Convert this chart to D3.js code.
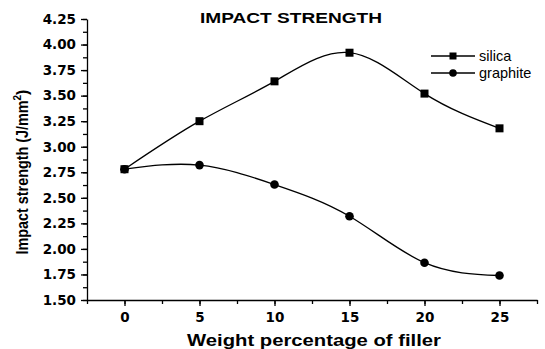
<!DOCTYPE html>
<html>
<head>
<meta charset="utf-8">
<script src="https://cdn.jsdelivr.net/npm/d3@7"></script>
<style>
  body { margin: 0; background: #fff; }
  text { font-family: "Liberation Sans", Arial, sans-serif; }
</style>
</head>
<body>
<script>
// data
var fillerPct = [0, 5, 10, 15, 20, 25];
var silica = [2.78, 3.25, 3.64, 3.92, 3.52, 3.18];
var graphite = [2.78, 2.82, 2.63, 2.32, 1.865, 1.74];
var yTicks = [1.50, 1.75, 2.00, 2.25, 2.50, 2.75, 3.00, 3.25, 3.50, 3.75, 4.00, 4.25];
var xTicks = [0, 5, 10, 15, 20, 25];

var svgWidth = 545, svgHeight = 349;
var margin = {top: 19, right: 8, bottom: 49, left: 87},
    width = svgWidth - margin.left - margin.right,
    height = svgHeight - margin.top - margin.bottom;

var svg = d3.select("body").append("svg").attr("width", svgWidth).attr("height", svgHeight);
var chartGroup = svg.append("g").attr("transform", `translate(${margin.left},${margin.top})`);

var xScale = d3.scaleLinear().domain([-2.5, 27.5]).range([0, width]);
var yScale = d3.scaleLinear().domain([1.5, 4.25]).range([height, 0]);

// minor ticks first
var minorX = d3.range(-2.5, 27.6, 2.5);
var minorY = d3.range(1.5, 4.26, 0.125);

chartGroup.append("g")
    .attr("transform", "translate(0," + height + ")")
    .call(d3.axisBottom(xScale).tickValues(minorX).tickSize(4).tickFormat(""))
    .call(g => g.select(".domain").remove());
chartGroup.append("g")
    .call(d3.axisLeft(yScale).tickValues(minorY).tickSize(4).tickFormat(""))
    .call(g => g.select(".domain").remove());

var xAxis = chartGroup.append("g")
    .attr("transform", "translate(0," + height + ")")
    .call(d3.axisBottom(xScale).tickValues(xTicks).tickSize(6).tickSizeOuter(0).tickPadding(6));
var yAxis = chartGroup.append("g")
    .call(d3.axisLeft(yScale).tickValues(yTicks).tickSize(6).tickSizeOuter(0).tickPadding(5).tickFormat(d3.format(".2f")));

[xAxis, yAxis].forEach(function(a) {
  a.selectAll("text")
      .style("font-family", "'DejaVu Sans', sans-serif")
      .style("font-size", "13.5px").style("font-weight", "bold").attr("fill", "#000");
  a.selectAll("path, line").attr("stroke", "#000").attr("stroke-width", 1.3);
});
chartGroup.selectAll(".tick line").attr("stroke", "#000").attr("stroke-width", 1.3);

// titles
svg.append("text")
    .attr("x", 291).attr("y", 23)
    .attr("text-anchor", "middle")
    .attr("font-size", "14px").attr("font-weight", "bold")
    .attr("textLength", 182).attr("lengthAdjust", "spacingAndGlyphs")
    .text("IMPACT STRENGTH");

svg.append("text")
    .attr("text-anchor", "middle")
    .attr("x", 314).attr("y", 346)
    .attr("font-size", "17px").attr("font-weight", "bold")
    .attr("textLength", 254).attr("lengthAdjust", "spacingAndGlyphs")
    .text("Weight percentage of filler");

var yTitle = svg.append("text")
    .attr("text-anchor", "middle")
    .attr("transform", "translate(28,172)rotate(-90)")
    .attr("font-size", "16px").attr("font-weight", "bold");
yTitle.append("tspan").attr("textLength", 154).attr("lengthAdjust", "spacingAndGlyphs").text("Impact strength (J/mm");
yTitle.append("tspan").attr("dy", -7).attr("font-size", "10px").text("2");
yTitle.append("tspan").attr("dy", 7).text(")");

var line = d3.line()
    .x(function(d) { return xScale(d[0]); })
    .y(function(d) { return yScale(d[1]); })
    .curve(d3.curveNatural);

var silicaPts = fillerPct.map(function(x, i) { return [x, silica[i]]; });
var graphitePts = fillerPct.map(function(x, i) { return [x, graphite[i]]; });

[silicaPts, graphitePts].forEach(function(pts) {
  chartGroup.append("path")
      .datum(pts)
      .attr("d", line)
      .attr("fill", "none")
      .attr("stroke", "#000")
      .attr("stroke-width", 1.3);
});

chartGroup.selectAll(".sq")
    .data(silicaPts)
  .enter().append("rect")
    .attr("x", function(d) { return xScale(d[0]) - 4; })
    .attr("y", function(d) { return yScale(d[1]) - 4; })
    .attr("width", 8).attr("height", 8)
    .attr("fill", "#000");

chartGroup.selectAll(".dot")
    .data(graphitePts)
  .enter().append("circle")
    .attr("cx", function(d) { return xScale(d[0]); })
    .attr("cy", function(d) { return yScale(d[1]); })
    .attr("r", 4.3)
    .attr("fill", "#000");

// legend
var legend = svg.append("g").attr("transform", "translate(431,56)");
var series = ["silica", "graphite"];
series.forEach(function(name, i) {
  var g = legend.append("g").attr("transform", "translate(0," + (i * 17) + ")");
  g.append("line").attr("x1", 0).attr("x2", 44).attr("stroke", "#000").attr("stroke-width", 1.3);
  if (i === 0) {
    g.append("rect").attr("x", 18.5).attr("y", -3.5).attr("width", 7).attr("height", 7).attr("fill", "#000");
  } else {
    g.append("circle").attr("cx", 22).attr("r", 3.8).attr("fill", "#000");
  }
  g.append("text").attr("x", 48).attr("y", 5).attr("font-size", "14.5px").text(name);
});
</script>
</body>
</html>
